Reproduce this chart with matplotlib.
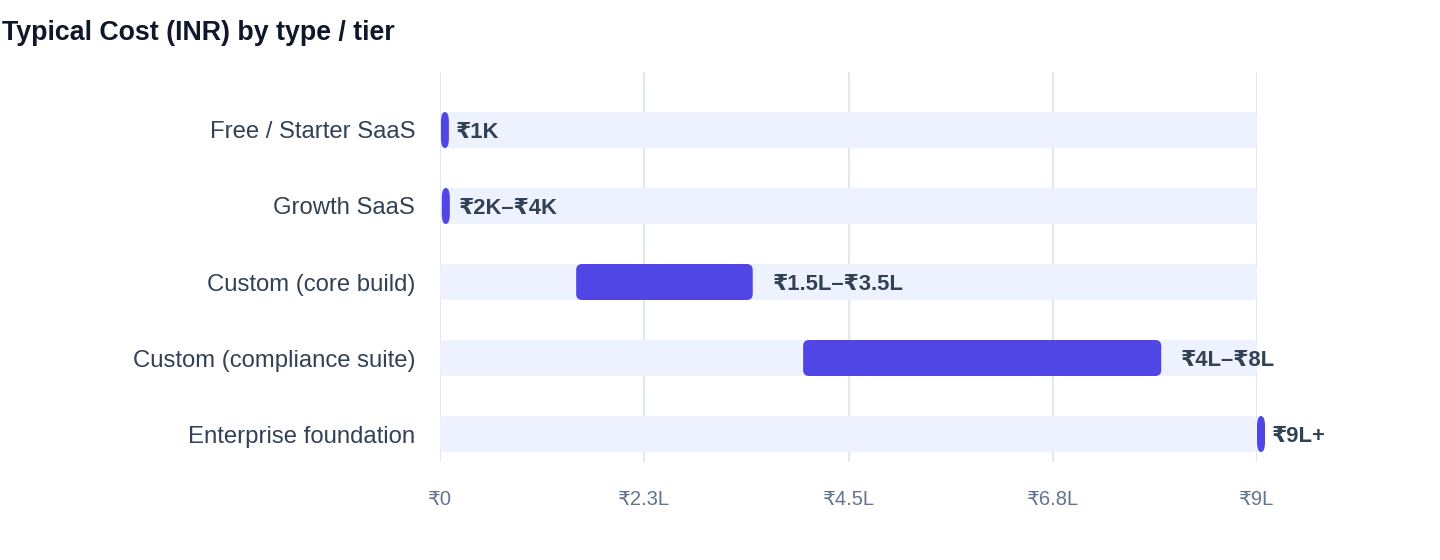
import matplotlib
matplotlib.use("Agg")
import matplotlib.pyplot as plt
from matplotlib.patches import FancyBboxPatch
from matplotlib.transforms import offset_copy

plt.rcParams['font.family'] = ['Liberation Sans', 'DejaVu Sans']

categories = ['Free / Starter SaaS', 'Growth SaaS', 'Custom (core build)',
              'Custom (compliance suite)', 'Enterprise foundation']
low = [1000, 2000, 150000, 400000, 900000]
high = [1000, 4000, 350000, 800000, 900000]
value_labels = ['₹1K', '₹2K–₹4K', '₹1.5L–₹3.5L', '₹4L–₹8L', '₹9L+']
tick_values = [0, 225000, 450000, 675000, 900000]
tick_labels = ['₹0', '₹2.3L', '₹4.5L', '₹6.8L', '₹9L']
x_max = 900000

W, H = 1440, 560
fig = plt.figure(figsize=(W / 100, H / 100), dpi=100)
ax_l, ax_r, ax_t, ax_b = 440, 1257, 72, 462
ax = fig.add_axes([ax_l / W, 1 - ax_b / H, (ax_r - ax_l) / W, (ax_b - ax_t) / H])

row_px = 76
n = len(categories)
ax.set_xlim(0, x_max)
ax.set_ylim(n - 1 + 28 / row_px, -58 / row_px)

px = x_max / (ax_r - ax_l)          # INR per pixel
asp = (1 / row_px) / px             # y units per x unit (for rounding)
track_h = 36 / row_px

for x in tick_values:
    ax.axvline(x, color='#E2E8F0', lw=1.5, zorder=0)

for i in range(n):
    # background track
    ax.add_patch(FancyBboxPatch((0, i - track_h / 2), x_max, track_h,
                                boxstyle='round,pad=0,rounding_size=%f' % (6 * px),
                                mutation_aspect=asp, fc='#EEF2FF', ec='none', zorder=1))
    # range bar
    start = low[i]
    end = max(high[i] - 5 * px, start + 8 * px)
    width = end - start
    if width < 12 * px:
        # thin bar -> pill with tall rounded ends
        r, m = width / 2, asp * 2.5
    else:
        r, m = 6 * px, asp
    ax.add_patch(FancyBboxPatch((start, i - track_h / 2), width, track_h,
                                boxstyle='round,pad=0,rounding_size=%f' % r,
                                mutation_aspect=m, fc='#4F46E5', ec='none',
                                zorder=2, clip_on=False))
    tr = offset_copy(ax.transData, fig=fig, x=15, y=0, units='dots')
    ax.text(high[i], i, value_labels[i], transform=tr, ha='left', va='center_baseline',
            fontsize=15.8, fontweight='bold', color='#334155', zorder=3, clip_on=False)

ax.set_yticks(range(n))
ax.set_yticklabels(categories, fontsize=17.2, color='#334155')
ax.set_xticks(tick_values)
ax.set_xticklabels(tick_labels, fontsize=14.5, color='#64748B')
ax.tick_params(axis='y', length=0, pad=18)
ax.tick_params(axis='x', length=0, pad=20)
for s in ax.spines.values():
    s.set_visible(False)

fig.text(2 / W, 1 - 33 / H, 'Typical Cost (INR) by type / tier', fontsize=19.3,
         fontweight='bold', color='#0F172A', ha='left', va='center')

fig.savefig('out.png', dpi=100)
